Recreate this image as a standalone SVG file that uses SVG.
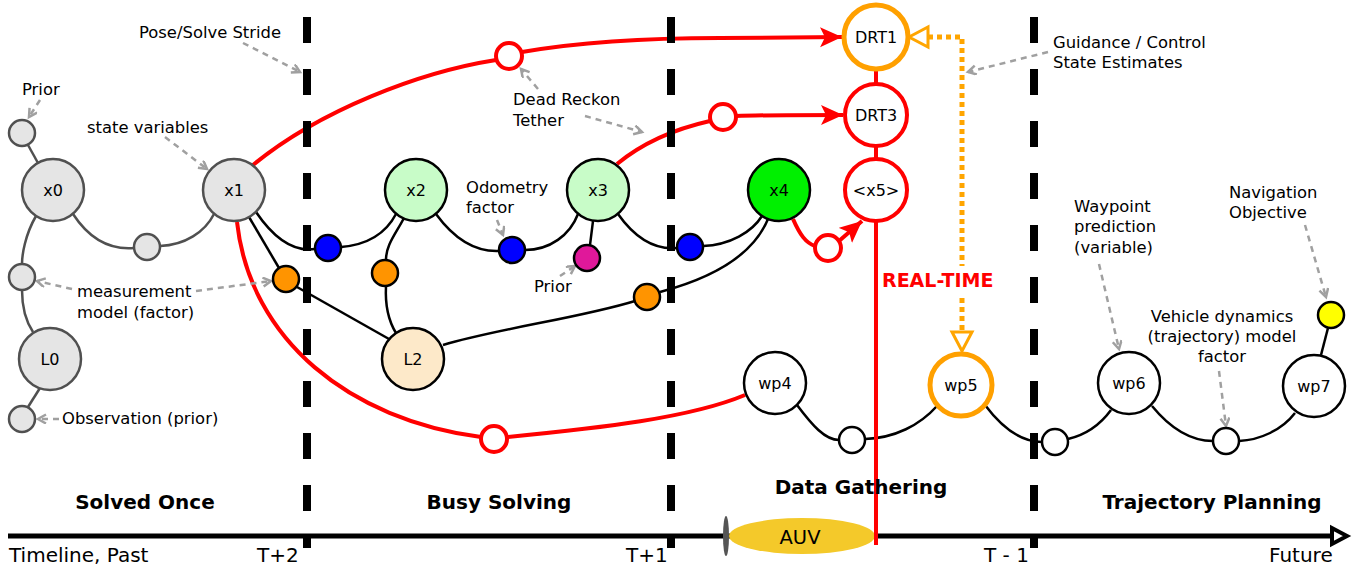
<svg xmlns="http://www.w3.org/2000/svg" width="1367" height="570" viewBox="0 0 1367 570">
<style>
text{font-family:"DejaVu Sans","Liberation Sans",sans-serif;fill:#000}
.nl{font-size:16px;text-anchor:middle}
.an{font-size:16.4px}
.sec{font-size:20px;font-weight:bold;text-anchor:middle}
.tl{font-size:20px}
.gn{fill:#e5e5e5;stroke:#505050;stroke-width:2.5}
.bn{stroke:#000;stroke-width:2.5}
.gc{fill:none;stroke:#505050;stroke-width:2.5}
.bc{fill:none;stroke:#000;stroke-width:2.5}
.rc{fill:none;stroke:#ff0000;stroke-width:4}
.rn{fill:#fff;stroke:#ff0000;stroke-width:4}
.ann{fill:none;stroke:#a0a0a0;stroke-width:2.5;stroke-dasharray:6,5;marker-end:url(#ga)}
.dash{stroke:#000;stroke-width:8;stroke-dasharray:26,26}
.od{fill:none;stroke:#ffa500;stroke-width:5;stroke-dasharray:5,4}
</style>
<defs>
<marker id="ga" markerWidth="12" markerHeight="12" refX="9" refY="5" orient="auto" markerUnits="userSpaceOnUse">
<path d="M1,0.5 L9,5 L1,9.5" fill="none" stroke="#a0a0a0" stroke-width="2.5"/>
</marker>
<marker id="ra" markerWidth="24" markerHeight="22" refX="22" refY="10" orient="auto" markerUnits="userSpaceOnUse">
<path d="M0,0 L22,10 L0,20 L5,10 Z" fill="#ff0000"/>
</marker>
</defs>
<rect width="1367" height="570" fill="#fff"/>

<g id="connectors">
<path class="gc" d="M28,145 L38,163"/>
<path class="gc" d="M73,214 C90,240 110,250 134,248"/>
<path class="gc" d="M160,246 C185,245 205,232 214,214"/>
<path class="gc" d="M36,216 C25,235 22,255 22,264"/>
<path class="gc" d="M22,290 C22,305 25,320 33,332"/>
<path class="gc" d="M40,388 L28,407"/>
<path class="bc" d="M256,212 C275,240 295,252 315,249"/>
<path class="bc" d="M341,247 C365,245 385,235 396,214"/>
<path class="bc" d="M249,217 L279,268"/>
<path class="bc" d="M297,287 L389,339"/>
<path class="bc" d="M404,218 C395,235 386,245 386,260"/>
<path class="bc" d="M386,286 C385,305 388,320 396,333"/>
<path class="bc" d="M436,214 C455,240 475,252 499,251"/>
<path class="bc" d="M525,250 C550,250 570,235 578,214"/>
<path class="bc" d="M593,221 L590,245"/>
<path class="bc" d="M618,214 C635,238 655,250 677,248"/>
<path class="bc" d="M703,246 C730,245 752,232 762,216"/>
<path class="bc" d="M768,219 C752,258 705,280 660,292"/>
<path class="bc" d="M635,301 C580,318 500,328 443,345"/>
<path class="bc" d="M797,405 C812,425 825,440 839,440"/>
<path class="bc" d="M865,439 C895,438 920,425 937,406"/>
<path class="bc" d="M985,405 C1000,425 1020,442 1042,442"/>
<path class="bc" d="M1068,439 C1085,435 1100,425 1111,410"/>
<path class="bc" d="M1152,406 C1170,428 1190,441 1213,441"/>
<path class="bc" d="M1239,441 C1260,440 1282,430 1295,413"/>
<path class="bc" d="M1321,355 L1328,328"/>
<path class="rc" d="M253,165 C320,110 420,72 496,60"/>
<path class="rc" d="M522,52 C580,42 650,38 720,38 L842,37" marker-end="url(#ra)"/>
<path class="rc" d="M617,164 C640,145 670,130 710,121"/>
<path class="rc" d="M736,116 C760,115 790,115 843,115" marker-end="url(#ra)"/>
<path class="rc" d="M237,222 C250,340 350,420 481,437"/>
<path class="rc" d="M507,437 C600,428 690,418 745,395"/>
<path class="rc" d="M793,219 C800,235 806,243 815,246"/>
<path class="rc" d="M839,241 L862,221" marker-end="url(#ra)"/>
<path class="rc" d="M876,69 L876,85 M876,146 L876,160"/>
<path fill="none" stroke="#ff0000" stroke-width="4" d="M876,221 L876,545"/>
<path class="od" d="M928,37 L962,37 L962,266"/>
<path class="od" d="M962,298 L962,332"/>
<path d="M909,37 L928,27 L928,47 Z" fill="#fff" stroke="#ffa500" stroke-width="3"/>
<path d="M962,351 L952,332 L972,332 Z" fill="#fff" stroke="#ffa500" stroke-width="3"/>
<path class="ann" d="M40,100 L29,117"/>
<path class="ann" d="M243,43 L300,72"/>
<path class="ann" d="M165,137 L207,169"/>
<path class="ann" d="M72,289 L37,281"/>
<path class="ann" d="M196,291 L271,281"/>
<path class="ann" d="M59,419 L38,419"/>
<path class="ann" d="M538,89 L521,69"/>
<path class="ann" d="M585,116 L642,132"/>
<path class="ann" d="M497,220 L503,235"/>
<path class="ann" d="M560,276 L575,266"/>
<path class="ann" d="M1048,52 L968,72"/>
<path class="ann" d="M1099,264 L1119,349"/>
<path class="ann" d="M1305,225 L1326,297"/>
<path class="ann" d="M1219,371 L1226,426"/>
</g>

<g id="stride-dividers">
<line class="dash" x1="307" y1="17" x2="307" y2="548"/>
<line class="dash" x1="671" y1="17" x2="671" y2="548"/>
<line class="dash" x1="1034" y1="17" x2="1034" y2="548"/>
</g>

<g id="timeline">
<line x1="8" y1="536" x2="1332" y2="536" stroke="#000" stroke-width="5"/>
<path d="M1347,536 L1332,528 L1332,544 Z" fill="#fff" stroke="#000" stroke-width="4"/>
</g>

<g id="auv">
<ellipse cx="726" cy="536" rx="3" ry="20" fill="#555"/>
<ellipse cx="802" cy="536" rx="73" ry="18" fill="#f4c92a"/>
<text x="800" y="544" font-size="19.5" text-anchor="middle">AUV</text>
</g>
<path fill="none" stroke="#ff0000" stroke-width="4" d="M876,518 L876,545"/>

<g id="prior0"><circle class="gn" cx="22" cy="133" r="13"/></g>
<g id="x0"><circle class="gn" cx="53" cy="190" r="31"/><text class="nl" x="53" y="196">x0</text></g>
<g id="f01"><circle class="gn" cx="147" cy="247" r="13"/></g>
<g id="x1"><circle class="gn" cx="234" cy="190" r="31"/><text class="nl" x="234" y="196">x1</text></g>
<g id="m0"><circle class="gn" cx="22" cy="277" r="13"/></g>
<g id="L0"><circle class="gn" cx="50" cy="359" r="31"/><text class="nl" x="50" y="365">L0</text></g>
<g id="obs0"><circle class="gn" cx="22" cy="419" r="13"/></g>

<g id="x2"><circle class="bn" fill="#c8fcc8" cx="416" cy="190" r="31"/><text class="nl" x="416" y="196">x2</text></g>
<g id="x3"><circle class="bn" fill="#c8fcc8" cx="598" cy="190" r="31"/><text class="nl" x="598" y="196">x3</text></g>
<g id="x4"><circle class="bn" fill="#00f000" cx="779" cy="190" r="31"/><text class="nl" x="779" y="196">x4</text></g>
<g id="L2"><circle class="bn" fill="#fde9c9" cx="413" cy="359" r="31"/><text class="nl" x="413" y="365">L2</text></g>

<g id="odo12"><circle class="bn" fill="#0000ff" cx="328" cy="248" r="13"/></g>
<g id="odo23"><circle class="bn" fill="#0000ff" cx="512" cy="250" r="13"/></g>
<g id="odo34"><circle class="bn" fill="#0000ff" cx="690" cy="247" r="13"/></g>
<g id="meas1"><circle class="bn" fill="#ff9400" cx="286" cy="279" r="13"/></g>
<g id="meas2"><circle class="bn" fill="#ff9400" cx="385" cy="273" r="13"/></g>
<g id="meas3"><circle class="bn" fill="#ff9400" cx="647" cy="297" r="13"/></g>
<g id="prior3"><circle class="bn" fill="#e0189a" cx="587" cy="258" r="13"/></g>

<g id="drt-tether1"><circle class="rn" cx="509" cy="56" r="13"/></g>
<g id="drt-tether3"><circle class="rn" cx="723" cy="117" r="13"/></g>
<g id="drt-tether-wp"><circle class="rn" cx="494" cy="439" r="13"/></g>
<g id="drt-tether5"><circle class="rn" cx="828" cy="248" r="13"/></g>

<g id="DRT1"><circle fill="#fff" stroke="#ffa000" stroke-width="5" cx="876" cy="37" r="32"/><text class="nl" x="876" y="43">DRT1</text></g>
<g id="DRT3"><circle class="rn" cx="876" cy="115" r="31"/><text class="nl" x="876" y="121">DRT3</text></g>
<g id="x5"><circle class="rn" cx="876" cy="190" r="31"/><text class="nl" x="876" y="196">&lt;x5&gt;</text></g>

<g id="wp4"><circle class="bn" fill="#fff" cx="775" cy="383" r="31"/><text class="nl" x="775" y="389">wp4</text></g>
<g id="wp5"><circle fill="#fff" stroke="#ffa000" stroke-width="5" cx="961" cy="385" r="31"/><text class="nl" x="961" y="391">wp5</text></g>
<g id="wp6"><circle class="bn" fill="#fff" cx="1129" cy="383" r="31"/><text class="nl" x="1129" y="389">wp6</text></g>
<g id="wp7"><circle class="bn" fill="#fff" cx="1314" cy="386" r="31"/><text class="nl" x="1314" y="392">wp7</text></g>
<g id="dyn45"><circle class="bn" fill="#fff" cx="852" cy="440" r="13"/></g>
<g id="dyn56"><circle class="bn" fill="#fff" cx="1055" cy="442" r="13"/></g>
<g id="dyn67"><circle class="bn" fill="#fff" cx="1226" cy="441" r="13"/></g>
<g id="navobj"><circle class="bn" fill="#ffff00" cx="1331" cy="315" r="13"/></g>

<g id="labels">
<text class="an" x="22" y="95">Prior</text>
<text class="an" x="139" y="38">Pose/Solve Stride</text>
<text class="an" x="87" y="133">state variables</text>
<text class="an" x="77" y="297">measurement</text>
<text class="an" x="77" y="318">model (factor)</text>
<text class="an" x="62" y="424">Observation (prior)</text>
<text class="an" x="513" y="105">Dead Reckon</text>
<text class="an" x="513" y="126">Tether</text>
<text class="an" x="466" y="193">Odometry</text>
<text class="an" x="466" y="213">factor</text>
<text class="an" x="534" y="292">Prior</text>
<text class="an" x="1053" y="48">Guidance / Control</text>
<text class="an" x="1053" y="68">State Estimates</text>
<text class="an" x="1074" y="212">Waypoint</text>
<text class="an" x="1074" y="232">prediction</text>
<text class="an" x="1074" y="253">(variable)</text>
<text class="an" x="1229" y="198">Navigation</text>
<text class="an" x="1229" y="218">Objective</text>
<text class="an" x="1222" y="322" text-anchor="middle">Vehicle dynamics</text>
<text class="an" x="1222" y="342" text-anchor="middle">(trajectory) model</text>
<text class="an" x="1222" y="362" text-anchor="middle">factor</text>
<text x="882" y="287" font-size="19" font-weight="bold" style="fill:#ff0000">REAL-TIME</text>
<text class="sec" x="145" y="509">Solved Once</text>
<text class="sec" x="499" y="509">Busy Solving</text>
<text class="sec" x="861" y="494">Data Gathering</text>
<text class="sec" x="1212" y="509">Trajectory Planning</text>
<text class="tl" x="9" y="562">Timeline, Past</text>
<text class="tl" x="257" y="562">T+2</text>
<text class="tl" x="626" y="562">T+1</text>
<text class="tl" x="984" y="562">T - 1</text>
<text class="tl" x="1269" y="562">Future</text>
</g>
</svg>
